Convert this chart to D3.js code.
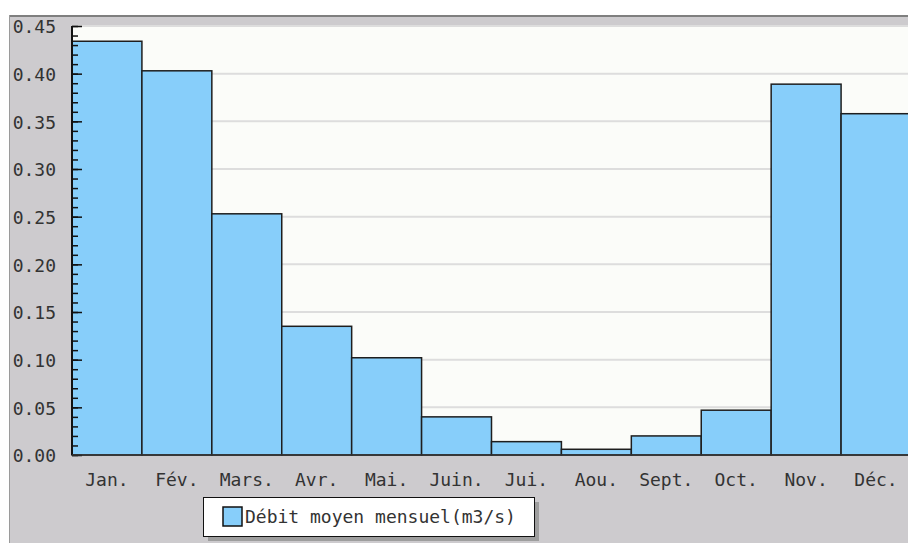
<!DOCTYPE html>
<html>
<head>
<meta charset="utf-8">
<script src="https://cdn.jsdelivr.net/npm/d3@7"></script>
<style>
  body { margin: 0; background: #fff; }
  svg text { font-family: "DejaVu Sans Mono", monospace; fill: #333; }
</style>
</head>
<body>
<svg id="chart" width="908" height="543"></svg>
<script>
// Data
const months = ['Jan.', 'Fév.', 'Mars.', 'Avr.', 'Mai.', 'Juin.', 'Jui.', 'Aou.', 'Sept.', 'Oct.', 'Nov.', 'Déc.'];
const debit = [0.434, 0.403, 0.253, 0.135, 0.102, 0.040, 0.014, 0.006, 0.020, 0.047, 0.389, 0.358];
const yTicks = [0, 0.05, 0.10, 0.15, 0.20, 0.25, 0.30, 0.35, 0.40, 0.45];
const seriesName = 'Débit moyen mensuel(m3/s)';

const width = 908;
const height = 543;
const plot = { left: 72, right: 911, top: 26, bottom: 455 };

const svg = d3.select('#chart');

// Background panel
svg.append('rect')
  .attr('x', 9).attr('y', 15)
  .attr('width', width - 9).attr('height', height - 15)
  .attr('fill', '#cdcbce');
svg.append('line')
  .attr('x1', 9).attr('x2', width).attr('y1', 16).attr('y2', 16)
  .attr('stroke', '#7f7f7f').attr('stroke-width', 2);
svg.append('line')
  .attr('x1', 9.5).attr('x2', 9.5).attr('y1', 15).attr('y2', height)
  .attr('stroke', '#9a9a9a').attr('stroke-width', 1);

// Plot background
svg.append('rect')
  .attr('x', plot.left).attr('y', plot.top)
  .attr('width', width - plot.left).attr('height', plot.bottom - plot.top)
  .attr('fill', '#fbfcf9');

// Scales
const x = d3.scaleBand()
  .domain(months)
  .range([plot.left, plot.right])
  .padding(0);

const y = d3.scaleLinear()
  .domain([0, 0.45])
  .range([plot.bottom, plot.top]);

// Gridlines
svg.append('g')
  .selectAll('line')
  .data(yTicks.filter(d => d > 0))
  .join('line')
  .attr('x1', plot.left).attr('x2', width)
  .attr('y1', d => y(d)).attr('y2', d => y(d))
  .attr('stroke', '#dddddd').attr('stroke-width', 2);

// Bars
svg.append('g')
  .selectAll('rect')
  .data(debit)
  .join('rect')
  .attr('x', (d, i) => x(months[i]))
  .attr('y', d => y(d))
  .attr('width', x.bandwidth())
  .attr('height', d => plot.bottom - y(d))
  .attr('fill', '#87cefa')
  .attr('stroke', '#1e1e1e')
  .attr('stroke-width', 1.5);

// Y axis: minor ticks then major ticks, drawn inward
const yAxisG = svg.append('g').attr('transform', `translate(${plot.left},0)`);
yAxisG.append('g')
  .call(d3.axisRight(y).ticks(45).tickSize(6).tickFormat(''))
  .call(g => g.select('.domain').remove())
  .call(g => g.selectAll('line').attr('stroke', '#111').attr('stroke-width', 1.5));
yAxisG.append('g')
  .call(d3.axisRight(y).tickValues(yTicks).tickSize(10).tickFormat(''))
  .call(g => g.select('.domain').remove())
  .call(g => g.selectAll('line').attr('stroke', '#111').attr('stroke-width', 1.5));
yAxisG.append('line')
  .attr('x1', 0).attr('x2', 0).attr('y1', plot.top).attr('y2', plot.bottom)
  .attr('stroke', '#111').attr('stroke-width', 2);

// Y tick labels
svg.append('g')
  .selectAll('text')
  .data(yTicks)
  .join('text')
  .attr('x', 56)
  .attr('y', d => y(d) + 1)
  .attr('dy', '0.35em')
  .attr('text-anchor', 'end')
  .style('font-size', '18px')
  .text(d => d3.format('.2f')(d));

// X axis line and labels
svg.append('line')
  .attr('x1', plot.left).attr('x2', width)
  .attr('y1', plot.bottom).attr('y2', plot.bottom)
  .attr('stroke', '#333').attr('stroke-width', 1.5);

svg.append('g')
  .selectAll('text')
  .data(months)
  .join('text')
  .attr('x', d => x(d) + x.bandwidth() / 2)
  .attr('y', 486)
  .attr('text-anchor', 'middle')
  .style('font-size', '18px')
  .text(d => d);

// Legend
const legend = svg.append('g').attr('transform', 'translate(203,497)');
legend.append('rect')
  .attr('x', 5).attr('y', 5).attr('width', 331).attr('height', 39)
  .attr('fill', '#9e9e9e');
legend.append('rect')
  .attr('x', 0.5).attr('y', 0.5).attr('width', 331).attr('height', 39)
  .attr('fill', '#fff').attr('stroke', '#111').attr('stroke-width', 1);
legend.append('rect')
  .attr('x', 20).attr('y', 10).attr('width', 19).attr('height', 19)
  .attr('fill', '#87cefa').attr('stroke', '#111').attr('stroke-width', 1.5);
legend.append('text')
  .attr('x', 42).attr('y', 20)
  .attr('dy', '0.35em')
  .style('font-size', '18px')
  .text(seriesName);
</script>
</body>
</html>
